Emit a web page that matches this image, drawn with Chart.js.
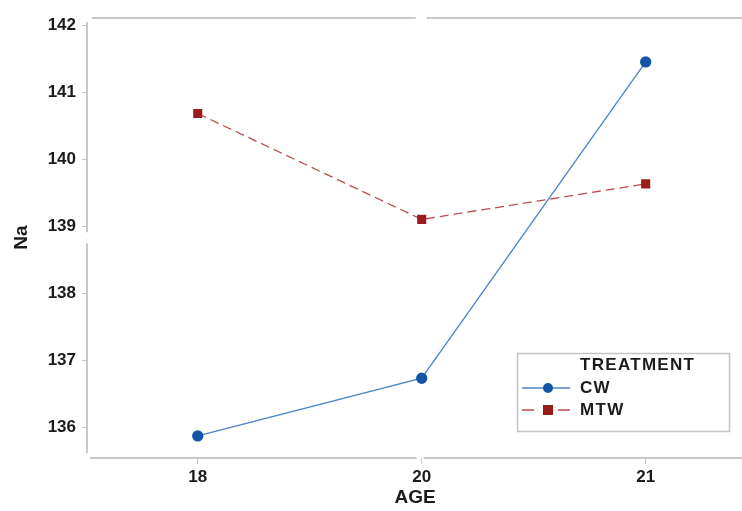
<!DOCTYPE html>
<html>
<head>
<meta charset="utf-8">
<script src="https://cdn.jsdelivr.net/npm/chart.js@4.4.1/dist/chart.umd.min.js"></script>
<style>
  html, body { margin: 0; padding: 0; background: #fff; }
  #wrap { width: 742px; height: 511px; }
</style>
</head>
<body>
<div id="wrap"><canvas id="naChart" width="742" height="511"></canvas></div>
<script>
// data
const ages = ['18', '20', '21'];
const cwValues = [135.87, 136.73, 141.45];
const mtwValues = [140.68, 139.10, 139.63];
const naTicks = [136, 137, 138, 139, 140, 141, 142];
const legendTitle = 'TREATMENT';

const axisGray = '#c8c8c8';
const textColor = '#1b1b1b';

// axis frame with the small breaks, like the original plot
const framePlugin = {
  id: 'frame',
  afterDraw(chart) {
    const ctx = chart.ctx;
    const a = chart.chartArea;
    const x = chart.scales.x, y = chart.scales.y;
    const midX = x.getPixelForValue(1);
    const gapTop = y.getPixelForValue(138.91), gapBot = y.getPixelForValue(138.74);
    ctx.save();
    ctx.strokeStyle = axisGray;
    ctx.lineWidth = 2;
    ctx.beginPath();
    // left
    ctx.moveTo(a.left - 1, y.getPixelForValue(142.04)); ctx.lineTo(a.left - 1, gapTop);
    ctx.moveTo(a.left - 1, gapBot); ctx.lineTo(a.left - 1, y.getPixelForValue(135.61));
    // top
    ctx.moveTo(a.left + 4, a.top + 1); ctx.lineTo(midX - 6, a.top + 1);
    ctx.moveTo(midX + 5, a.top + 1); ctx.lineTo(a.right, a.top + 1);
    // bottom
    ctx.moveTo(a.left + 2, a.bottom); ctx.lineTo(midX - 5, a.bottom);
    ctx.moveTo(midX + 2, a.bottom); ctx.lineTo(a.right, a.bottom);
    ctx.stroke();
    ctx.restore();
  }
};

// boxed legend in the lower right
const legendPlugin = {
  id: 'boxLegend',
  afterDraw(chart) {
    const ctx = chart.ctx;
    const bx = 517, by = 353, bw = 212, bh = 78;
    ctx.save();
    ctx.strokeStyle = '#c4c4c4';
    ctx.lineWidth = 1.5;
    ctx.strokeRect(bx + 0.5, by + 0.5, bw, bh);
    ctx.fillStyle = textColor;
    ctx.font = 'bold 17px "Liberation Sans", Arial, sans-serif';
    ctx.letterSpacing = '1.3px';
    ctx.textBaseline = 'middle';
    ctx.fillText(legendTitle, 580, by + 12);
    chart.data.datasets.forEach((ds, i) => {
      const cy = by + 35 + i * 22;
      ctx.strokeStyle = ds.borderColor;
      ctx.lineWidth = 1.3;
      ctx.beginPath();
      if (ds.borderDash) {
        ctx.moveTo(522, cy); ctx.lineTo(534, cy);
        ctx.moveTo(558, cy); ctx.lineTo(570, cy);
      } else {
        ctx.moveTo(522, cy); ctx.lineTo(570, cy);
      }
      ctx.stroke();
      ctx.fillStyle = ds.pointBackgroundColor;
      if (ds.pointStyle === 'rect') {
        ctx.fillRect(543, cy - 5, 10, 10);
      } else {
        ctx.beginPath(); ctx.arc(548, cy, 5, 0, Math.PI * 2); ctx.fill();
      }
      ctx.fillStyle = textColor;
      ctx.fillText(ds.label, 580, cy);
    });
    ctx.restore();
  }
};

const ctx = document.getElementById('naChart').getContext('2d');
new Chart(ctx, {
  type: 'line',
  data: {
    datasets: [{
      label: 'CW',
      data: cwValues.map((v, i) => ({ x: i, y: v })),
      borderColor: '#4a84c8',
      borderWidth: 1.3,
      pointStyle: 'circle',
      pointRadius: 5,
      pointBackgroundColor: '#1455a6',
      pointBorderColor: '#1455a6',
      tension: 0,
      fill: false
    },
    {
      label: 'MTW',
      data: mtwValues.map((v, i) => ({ x: i, y: v })),
      borderColor: '#bd4c4c',
      borderWidth: 1.3,
      borderDash: [9, 5],
      pointStyle: 'rect',
      pointRadius: 5.5,
      pointBackgroundColor: '#9b1c1c',
      pointBorderColor: '#9b1c1c',
      tension: 0,
      fill: false
    }]
  },
  options: {
    responsive: false,
    animation: false,
    devicePixelRatio: 1,
    layout: { autoPadding: false, padding: { top: 17, right: 0, left: 0, bottom: 0 } },
    plugins: {
      legend: { display: false },
      tooltip: { enabled: false }
    },
    scales: {
      x: {
        type: 'linear',
        min: -0.49,
        max: 2.43,
        afterBuildTicks: s => { s.ticks = ages.map((a, i) => ({ value: i })); },
        afterFit: s => { s.height = 53; s.paddingRight = 0; s.paddingLeft = 0; },
        border: { display: false },
        grid: { drawOnChartArea: false, drawTicks: true, tickLength: 6, color: axisGray },
        ticks: {
          callback: v => ages[v],
          color: textColor,
          padding: 3,
          maxRotation: 0,
          font: { family: '"Liberation Sans", Arial, sans-serif', size: 17, weight: 'bold' }
        },
        title: {
          display: true,
          text: 'AGE',
          color: textColor,
          padding: { top: 0, bottom: 2 },
          font: { family: '"Liberation Sans", Arial, sans-serif', size: 19, weight: 'bold' }
        }
      },
      y: {
        min: 135.54,
        max: 142.12,
        afterBuildTicks: s => { s.ticks = naTicks.map(v => ({ value: v })); },
        afterFit: s => { s.width = 88; s.paddingTop = 0; s.paddingBottom = 0; },
        border: { display: false },
        grid: { drawOnChartArea: false, drawTicks: true, tickLength: 6, color: axisGray },
        ticks: {
          color: textColor,
          padding: 6,
          font: { family: '"Liberation Sans", Arial, sans-serif', size: 17, weight: 'bold' }
        },
        title: {
          display: true,
          text: 'Na',
          color: textColor,
          padding: { top: 10, bottom: 0 },
          font: { family: '"Liberation Sans", Arial, sans-serif', size: 19, weight: 'bold' }
        }
      }
    }
  },
  plugins: [framePlugin, legendPlugin]
});
</script>
</body>
</html>
